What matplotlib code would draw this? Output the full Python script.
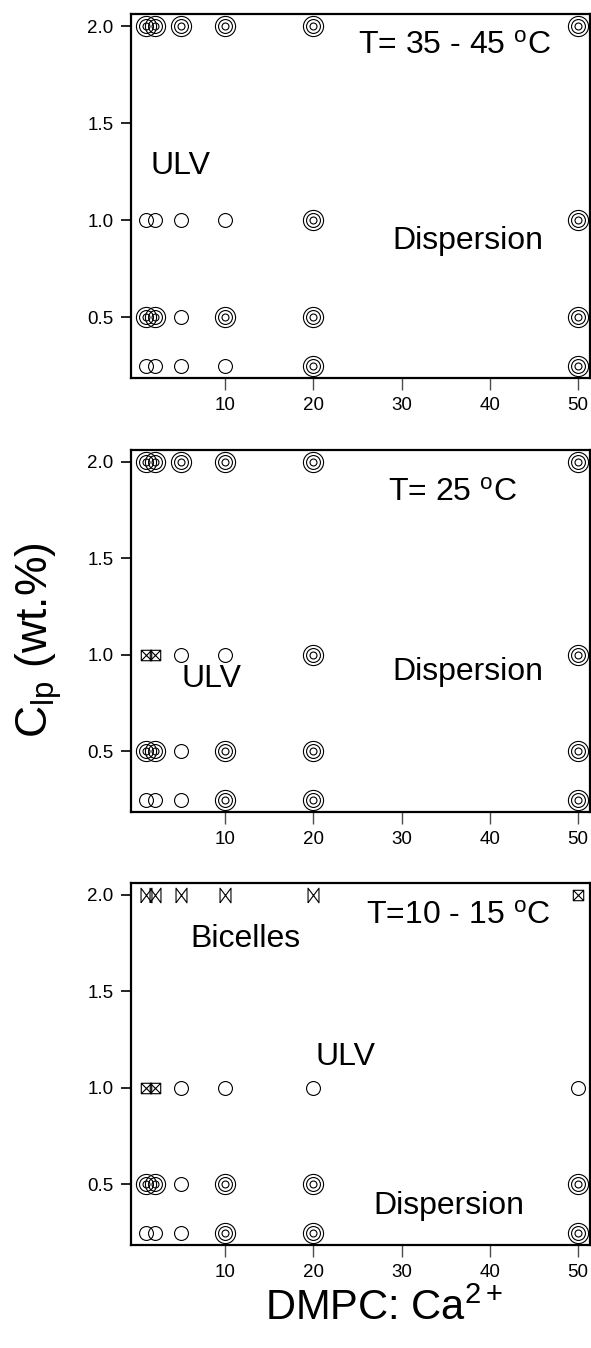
import numpy as np
import matplotlib
matplotlib.use("Agg")
import matplotlib.pyplot as plt
from matplotlib.path import Path

plt.rcParams['font.family'] = ['Liberation Sans', 'DejaVu Sans']
plt.rcParams['mathtext.fontset'] = 'custom'
plt.rcParams['mathtext.rm'] = 'Liberation Sans'
plt.rcParams['mathtext.it'] = 'Liberation Sans:italic'

# rapport molaire DMPC:Ca2+ et concentration lipidique
x_ratio = [1, 2, 5, 10, 20, 50]
c_lp = [2.0, 1.0, 0.5, 0.25]

# D = dispersion, U = ULV, B = bicelles, M = bicelles + ULV
phases_hot = [
    ['D', 'D', 'D', 'D', 'D', 'D'],
    ['U', 'U', 'U', 'U', 'D', 'D'],
    ['D', 'D', 'U', 'D', 'D', 'D'],
    ['U', 'U', 'U', 'U', 'D', 'D'],
]
phases_25 = [
    ['D', 'D', 'D', 'D', 'D', 'D'],
    ['M', 'M', 'U', 'U', 'D', 'D'],
    ['D', 'D', 'U', 'D', 'D', 'D'],
    ['U', 'U', 'U', 'D', 'D', 'D'],
]
phases_cold = [
    ['B', 'B', 'B', 'B', 'B', 'M'],
    ['M', 'M', 'U', 'U', 'U', 'U'],
    ['D', 'D', 'U', 'D', 'D', 'D'],
    ['U', 'U', 'U', 'D', 'D', 'D'],
]

temperatures = [r'T= 35 - 45 $^{\mathrm{o}}$C', r'T= 25 $^{\mathrm{o}}$C', r'T=10 - 15 $^{\mathrm{o}}$C']

# étiquettes de région : (texte, x, y)
labels_hot = [('ULV', 1.5, 1.28), ('Dispersion', 29.0, 0.89)]
labels_25 = [('ULV', 5.0, 0.875), ('Dispersion', 29.0, 0.91)]
labels_cold = [('Bicelles', 6.0, 1.77), ('ULV', 20.2, 1.16), ('Dispersion', 26.8, 0.39)]
temp_pos = [(25.1, 1.90), (28.5, 1.84), (26.0, 1.89)]

# marqueurs maison
bowtie = Path([(-0.75, -1), (-0.75, 1), (0.75, -1), (0.75, 1), (-0.75, -1)],
              [Path.MOVETO, Path.LINETO, Path.LINETO, Path.LINETO, Path.LINETO])
boxx = Path([(-1, -1), (1, -1), (1, 1), (-1, 1), (-1, -1), (1, 1), (-1, 1), (1, -1)],
            [Path.MOVETO, Path.LINETO, Path.LINETO, Path.LINETO, Path.LINETO,
             Path.LINETO, Path.MOVETO, Path.LINETO])


def draw_point(ax, x, y, code):
    kw = dict(linestyle='none', mfc='none', mec='black', mew=0.8, clip_on=False)
    if code == 'D':
        for ms in (14.5, 10, 5):
            ax.plot(x, y, marker='o', ms=ms, **kw)
    elif code == 'U':
        ax.plot(x, y, marker='o', ms=10, **kw)
    elif code == 'B':
        ax.plot(x, y, marker=bowtie, ms=10.5, **kw)
    elif code == 'M':
        ax.plot(x, y, marker=boxx, ms=7.5, **kw)


fig = plt.figure(figsize=(5.91, 13.48), dpi=100)
rects = [
    [131 / 591, 1 - 378 / 1348, 458.5 / 591, 364 / 1348],
    [131 / 591, 1 - 812 / 1348, 458.5 / 591, 362 / 1348],
    [131 / 591, 1 - 1245 / 1348, 458.5 / 591, 362 / 1348],
]
all_phases = [phases_hot, phases_25, phases_cold]
all_labels = [labels_hot, labels_25, labels_cold]

for k in range(3):
    ax = fig.add_axes(rects[k])
    for i, y in enumerate(c_lp):
        for j, x in enumerate(x_ratio):
            draw_point(ax, x, y, all_phases[k][i][j])
    ax.set_xlim(-0.68, 51.3)
    ax.set_ylim(0.186, 2.062)
    ax.set_xticks([10, 20, 30, 40, 50])
    ax.set_yticks([0.5, 1.0, 1.5, 2.0])
    ax.set_yticklabels(['0.5', '1.0', '1.5', '2.0'])
    for s in ax.spines.values():
        s.set_linewidth(1.6)
    ax.tick_params(axis='x', direction='out', length=8.5, width=1, labelsize=13.5, pad=5, color='0.3')
    ax.tick_params(axis='y', direction='out', length=7.5, width=1.2, labelsize=13.5, pad=5)
    tx, ty = temp_pos[k]
    ax.text(tx, ty, temperatures[k], fontsize=23, va='center', ha='left')
    for txt, lx, ly in all_labels[k]:
        ax.text(lx, ly, txt, fontsize=23, va='center', ha='left')

fig.text(0.066, 0.525, r'C$_{\mathrm{lp}}$ (wt.%)', rotation=90, fontsize=32, ha='center', va='center')
fig.text(0.65, 0.029, r'DMPC: Ca$^{2+}$', fontsize=30, ha='center', va='center')

fig.savefig('out.png', dpi=100)
